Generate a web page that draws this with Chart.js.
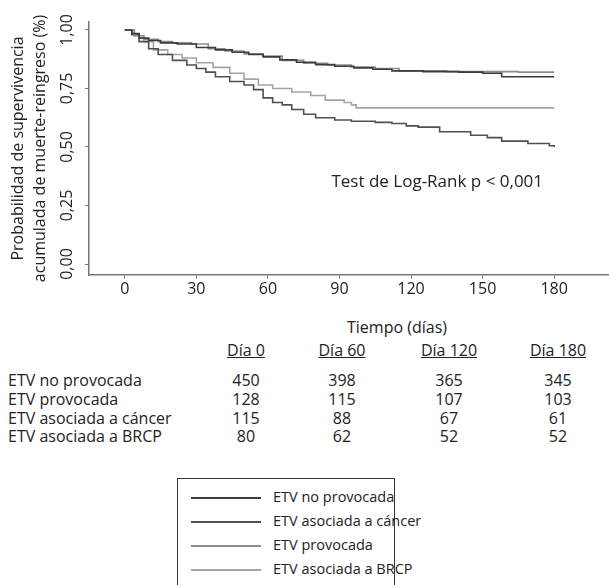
<!DOCTYPE html>
<html>
<head>
<meta charset="utf-8">
<script src="https://cdn.jsdelivr.net/npm/chart.js@4/dist/chart.umd.min.js"></script>
<style>
  body { margin: 0; background: #fff; font-family: "Open Sans", sans-serif; color: #222; }
  #wrap { position: relative; width: 609px; height: 585px; overflow: hidden; }
  #km { position: absolute; left: 0; top: 0; }
  .t { position: absolute; font-size: 16px; line-height: 18px; white-space: nowrap; }
  .c { transform: translateX(-50%); }
  .u { text-decoration: underline; }
  #legend { position: absolute; left: 177px; top: 478px; width: 216px; height: 140px; border: 1px solid #333; }
  .li { position: absolute; left: 0; height: 22px; width: 216px; }
  .li span.s { position: absolute; left: 13px; top: 10px; width: 70px; border-top: 2px solid #888; }
  .li span.l { position: absolute; left: 95px; top: 1px; font-size: 14.5px; line-height: 18px; white-space: nowrap; }
</style>
</head>
<body>
<div id="wrap">
  <canvas id="km" width="609" height="310"></canvas>
  <div class="t c" style="left:397px; top:318px;">Tiempo (días)</div>
  <div id="table"></div>
  <div id="legend"></div>
</div>
<script>
// curves (days, survival probability)
const daysNoProv = [0, 3, 6, 10, 15, 22, 30, 38, 45, 52, 58, 65, 72, 80, 88, 96, 104, 112, 125, 140, 150, 158, 180];
const survNoProv = [1, 0.985, 0.965, 0.955, 0.945, 0.94, 0.925, 0.915, 0.905, 0.895, 0.885, 0.872, 0.862, 0.852, 0.845, 0.838, 0.832, 0.825, 0.822, 0.82, 0.815, 0.80, 0.80];

const daysProv = [0, 4, 8, 14, 20, 28, 35, 42, 50, 58, 66, 75, 85, 95, 105, 115, 135, 165, 180];
const survProv = [1, 0.975, 0.96, 0.95, 0.945, 0.94, 0.92, 0.91, 0.898, 0.888, 0.87, 0.858, 0.85, 0.842, 0.835, 0.825, 0.822, 0.82, 0.82];

const daysCancer = [0, 3, 6, 10, 14, 20, 26, 30, 34, 38, 44, 50, 54, 58, 62, 66, 70, 75, 80, 88, 95, 105, 112, 118, 123, 132, 145, 152, 158, 169, 178, 180];
const survCancer = [1, 0.98, 0.95, 0.92, 0.895, 0.87, 0.85, 0.835, 0.82, 0.80, 0.78, 0.765, 0.745, 0.71, 0.69, 0.68, 0.66, 0.64, 0.625, 0.615, 0.61, 0.605, 0.60, 0.59, 0.585, 0.565, 0.55, 0.54, 0.525, 0.515, 0.505, 0.50];

const daysBrcp = [0, 4, 8, 12, 18, 24, 30, 37, 44, 50, 56, 62, 70, 78, 84, 92, 95, 97, 180];
const survBrcp = [1, 0.975, 0.95, 0.915, 0.895, 0.88, 0.86, 0.84, 0.815, 0.79, 0.765, 0.75, 0.735, 0.72, 0.70, 0.69, 0.68, 0.667, 0.667];

const xTicks = [0, 30, 60, 90, 120, 150, 180];
const yTicks = [0, 0.25, 0.5, 0.75, 1];

// patients at risk
const riskHeaders = ['Día 0', 'Día 60', 'Día 120', 'Día 180'];
const riskGroups = ['ETV no provocada', 'ETV provocada', 'ETV asociada a cáncer', 'ETV asociada a BRCP'];
const riskNoProv = [450, 398, 365, 345];
const riskProv = [128, 115, 107, 103];
const riskCancer = [115, 88, 67, 61];
const riskBrcp = [80, 62, 52, 52];

const legendOrder = ['ETV no provocada', 'ETV asociada a cáncer', 'ETV provocada', 'ETV asociada a BRCP'];

function pts(xs, ys) {
    return xs.map((x, i) => ({x: x, y: ys[i]}));
}

const datasets = [
    {label: 'ETV no provocada', data: pts(daysNoProv, survNoProv), borderColor: '#3c3c3c'},
    {label: 'ETV provocada', data: pts(daysProv, survProv), borderColor: '#8c8c8c'},
    {label: 'ETV asociada a cáncer', data: pts(daysCancer, survCancer), borderColor: '#505050'},
    {label: 'ETV asociada a BRCP', data: pts(daysBrcp, survBrcp), borderColor: '#a5a5a5'}
]
datasets.forEach(d => {
    d.stepped = true
    d.pointRadius = 0
    d.borderWidth = 1.6
    d.fill = false
})

const logRank = {
    id: 'logRank',
    afterDatasetsDraw(chart) {
        const ctx = chart.ctx
        const x = chart.scales.x.getPixelForValue(131)
        const y = chart.scales.y.getPixelForValue(0.35)
        ctx.save()
        ctx.font = '17px "Open Sans"'
        ctx.fillStyle = '#222'
        ctx.textAlign = 'center'
        ctx.textBaseline = 'middle'
        ctx.fillText('Test de Log-Rank p < 0,001', x, y)
        ctx.restore()
    }
}

const fmt = v => v.toFixed(2).replace('.', ',')

new Chart(document.getElementById('km'), {
    type: 'line',
    data: {datasets: datasets},
    plugins: [logRank],
    options: {
        responsive: false,
        animation: false,
        layout: {padding: {top: 22, right: 0, left: 0, bottom: 0}},
        plugins: {legend: {display: false}, tooltip: {enabled: false}},
        scales: {
            x: {
                type: 'linear',
                min: -15,
                max: 203,
                afterBuildTicks: s => { s.ticks = xTicks.map(v => ({value: v})) },
                afterFit: s => { s.height = 35 },
                grid: {drawOnChartArea: false, tickLength: 4, color: '#777'},
                border: {color: '#777', width: 1.5},
                ticks: {color: '#222', font: {family: 'Open Sans', size: 16}, padding: 1, maxRotation: 0}
            },
            y: {
                min: -0.047,
                max: 1.034,
                afterBuildTicks: s => { s.ticks = yTicks.map(v => ({value: v})) },
                afterFit: s => { s.width = 89 },
                grid: {drawOnChartArea: false, tickLength: 4, color: '#777'},
                border: {color: '#777', width: 1.5},
                ticks: {
                    color: '#222', font: {family: 'Open Sans', size: 16},
                    minRotation: 90, maxRotation: 90, crossAlign: 'center', padding: 2,
                    callback: v => fmt(v)
                },
                title: {
                    display: true,
                    text: ['Probabilidad de supervivencia', 'acumulada de muerte-reingreso (%)'],
                    color: '#222',
                    font: {family: 'Open Sans', size: 16, lineHeight: 1.35},
                    padding: {top: 8, bottom: 0}
                }
            }
        }
    }
})

// at-risk table
const tbl = document.getElementById('table')
const colX = [246, 342, 449, 558]
const rowY = [371, 390, 409, 427]
let html = ''
riskHeaders.forEach((h, i) => {
    html += `<div class="t c u" style="left:${colX[i]}px; top:341px;">${h}</div>`
})
const riskRows = [riskNoProv, riskProv, riskCancer, riskBrcp]
riskGroups.forEach((g, r) => {
    html += `<div class="t" style="left:8px; top:${rowY[r]}px;">${g}</div>`
    riskRows[r].forEach((n, i) => {
        html += `<div class="t c" style="left:${colX[i]}px; top:${rowY[r]}px;">${n}</div>`
    })
})
tbl.innerHTML = html

// legend built from the datasets
const leg = document.getElementById('legend')
let lh = ''
legendOrder.forEach((name, i) => {
    const d = datasets.find(ds => ds.label === name)
    lh += `<div class="li" style="top:${8 + i * 24}px;"><span class="s" style="border-color:${d.borderColor}"></span><span class="l">${name}</span></div>`
})
leg.innerHTML = lh
</script>
</body>
</html>
